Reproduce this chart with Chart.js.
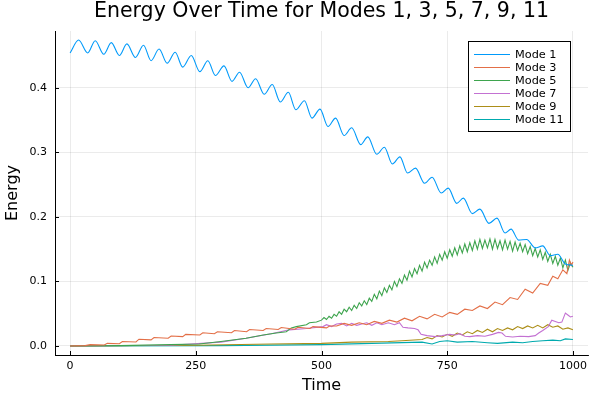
<!DOCTYPE html>
<html>
<head>
<meta charset="utf-8">
<script src="https://cdn.jsdelivr.net/npm/chart.js@4.4.1/dist/chart.umd.min.js"></script>
<style>
    body { margin: 0; background: #fff; }
    #chart { display: block; }
</style>
</head>
<body>
<canvas id="chart" width="600" height="400"></canvas>
<script>
// DATA

const chartTitle = "Energy Over Time for Modes 1, 3, 5, 7, 9, 11";
const xTicks = [0, 250, 500, 750, 1000];
const yTicks = [0.0, 0.1, 0.2, 0.3, 0.4];
const modeNames = ["Mode 1", "Mode 3", "Mode 5", "Mode 7", "Mode 9", "Mode 11"];

// mode 1 is read at its peaks and troughs
const mode1Time = [0, 17, 35, 50, 67, 82, 98, 113, 130, 146, 161, 177, 193, 209, 224, 241, 258, 274, 289, 306,
    322, 337, 354, 369, 386, 402, 418, 434, 449, 466, 481, 497, 513, 528, 545, 560, 578, 592, 610, 625,
    641, 656, 671, 687, 705, 720, 738, 752, 769, 782, 800, 815, 833, 849, 865, 877, 892, 908, 925, 940,
    955, 970, 985, 1000];
const mode1Energy = [0.454, 0.474, 0.454, 0.473, 0.452, 0.470, 0.450, 0.468, 0.447, 0.466, 0.442, 0.460, 0.438, 0.455, 0.432, 0.450, 0.425, 0.442, 0.419, 0.434,
    0.410, 0.424, 0.400, 0.414, 0.390, 0.405, 0.378, 0.393, 0.366, 0.380, 0.353, 0.367, 0.340, 0.353, 0.326, 0.338, 0.312, 0.324, 0.297, 0.308,
    0.282, 0.293, 0.268, 0.2755, 0.252, 0.2615, 0.237, 0.2445, 0.221, 0.229, 0.205, 0.212, 0.190, 0.198, 0.175, 0.181, 0.164, 0.165, 0.152, 0.155,
    0.140, 0.142, 0.127, 0.125];

const mode3Time = [0, 30, 40, 68, 74, 98, 104, 131, 137, 161, 167, 195, 201, 224, 230, 258, 264, 287, 293, 321,
    327, 351, 357, 384, 390, 414, 420, 447, 453, 477, 483, 510, 516, 530, 545, 560, 575, 590, 605, 620,
    635, 650, 665, 680, 695, 710, 725, 740, 755, 770, 785, 800, 815, 830, 845, 860, 875, 890, 905, 920,
    935, 950, 960, 970, 980, 988, 993, 997, 1000];
const mode3Energy = [0, 0.0005, 0.002, 0.0015, 0.004, 0.0035, 0.007, 0.0062, 0.0105, 0.0095, 0.013, 0.012, 0.0155, 0.0145, 0.018, 0.017, 0.0205, 0.019, 0.022, 0.0205,
    0.024, 0.022, 0.0255, 0.024, 0.027, 0.0255, 0.0285, 0.026, 0.029, 0.027, 0.030, 0.028, 0.031, 0.031, 0.035, 0.032, 0.036, 0.033, 0.038, 0.035,
    0.040, 0.037, 0.043, 0.039, 0.046, 0.042, 0.049, 0.045, 0.052, 0.049, 0.057, 0.055, 0.062, 0.058, 0.068, 0.064, 0.075, 0.072, 0.088, 0.082,
    0.097, 0.094, 0.108, 0.104, 0.118, 0.112, 0.133, 0.125, 0.130];

const mode5Time = [0, 100, 200, 257, 300, 350, 384, 410, 430, 440, 450, 470, 476, 490,
    500, 505, 510, 515, 520, 525, 530, 535, 540, 545, 550, 555, 560, 565, 570, 575, 580, 585, 590, 595,
    600, 605, 610, 615, 620, 625, 630, 635, 640, 645, 650, 655, 660, 665, 670, 675, 680, 685, 690, 695,
    700, 705, 710, 715, 720, 725, 730, 735, 740, 745, 750, 755, 760, 765, 770, 775, 780, 785, 790, 795,
    800, 805, 810, 815, 820, 825, 830, 835, 840, 845, 850, 855, 860, 865, 870, 875, 880, 885, 890, 895,
    900, 905, 910, 915, 920, 925, 930, 935, 940, 945, 950, 955, 960, 965, 970, 975, 980, 985, 990, 995, 1000];
const mode5Energy = [0, 0.0005, 0.002, 0.003, 0.007, 0.012, 0.017, 0.020, 0.022, 0.028, 0.030, 0.033, 0.036, 0.037,
    0.040, 0.044, 0.041, 0.046, 0.043, 0.049, 0.046, 0.053, 0.049, 0.057, 0.053, 0.060, 0.055, 0.063, 0.058, 0.067, 0.062, 0.070, 0.064, 0.074,
    0.069, 0.080, 0.073, 0.085, 0.078, 0.090, 0.083, 0.094, 0.087, 0.100, 0.092, 0.104, 0.097, 0.110, 0.102, 0.116, 0.107, 0.120, 0.112, 0.125,
    0.116, 0.130, 0.121, 0.133, 0.125, 0.138, 0.128, 0.142, 0.133, 0.146, 0.136, 0.149, 0.139, 0.152, 0.141, 0.155, 0.144, 0.158, 0.146, 0.160,
    0.148, 0.163, 0.150, 0.165, 0.151, 0.164, 0.152, 0.166, 0.150, 0.165, 0.151, 0.163, 0.149, 0.164, 0.150, 0.162, 0.147, 0.161, 0.148, 0.159,
    0.146, 0.157, 0.143, 0.154, 0.140, 0.151, 0.138, 0.149, 0.134, 0.145, 0.131, 0.142, 0.128, 0.139, 0.125, 0.136, 0.121, 0.133, 0.117, 0.129, 0.122];

const mode7Time = [0, 200, 300, 350, 400, 436, 470, 503, 510, 520, 530, 540, 550, 560, 570, 580, 590, 600, 610, 620,
    633, 645, 655, 662, 672, 685, 692, 698, 710, 726, 740, 755, 766, 775, 785, 795, 810, 825, 840, 852,
    859, 866, 880, 895, 912, 925, 932, 940, 951, 958, 965, 972, 978, 985, 990, 995, 1000];
const mode7Energy = [0, 0.001, 0.006, 0.012, 0.019, 0.025, 0.027, 0.030, 0.033, 0.030, 0.034, 0.035, 0.031, 0.035, 0.032, 0.034, 0.036, 0.032, 0.036, 0.033,
    0.036, 0.033, 0.036, 0.029, 0.028, 0.027, 0.025, 0.018, 0.016, 0.0145, 0.016, 0.018, 0.017, 0.019, 0.015, 0.0145, 0.016, 0.015, 0.018, 0.021,
    0.020, 0.015, 0.014, 0.015, 0.0145, 0.016, 0.020, 0.024, 0.030, 0.040, 0.038, 0.036, 0.037, 0.051, 0.048, 0.045, 0.046];

const mode9Time = [0, 250, 400, 500, 560, 633, 660, 700, 710, 720, 730, 740, 750, 760, 770, 780, 790, 800, 810, 820,
    830, 840, 850, 860, 870, 880, 890, 900, 910, 920, 930, 940, 950, 960, 970, 980, 990, 1000];
const mode9Energy = [0, 0.001, 0.003, 0.004, 0.006, 0.007, 0.008, 0.010, 0.013, 0.011, 0.016, 0.014, 0.018, 0.015, 0.020, 0.017, 0.022, 0.019, 0.024, 0.021,
    0.026, 0.022, 0.027, 0.024, 0.028, 0.025, 0.030, 0.027, 0.031, 0.028, 0.032, 0.028, 0.033, 0.029, 0.031, 0.026, 0.028, 0.025];

const mode11Time = [0, 300, 500, 600, 700, 720, 735, 750, 770, 800, 830, 850, 880, 900, 920, 940, 960, 975, 985, 1000];
const mode11Energy = [0, 0.0005, 0.002, 0.004, 0.006, 0.003, 0.007, 0.008, 0.006, 0.007, 0.005, 0.004, 0.006, 0.005, 0.007, 0.008, 0.009, 0.008, 0.011, 0.010];

const modeColors = ["#009AFA", "#E36F47", "#3EA44E", "#C371D2", "#AC8E18", "#00AAAE"];

// HELPERS

function toPoints(times, values) {
    return times.map((t, i) => ({ x: t, y: values[i] }));
}

const seriesTimes = [mode1Time, mode3Time, mode5Time, mode7Time, mode9Time, mode11Time];
const seriesValues = [mode1Energy, mode3Energy, mode5Energy, mode7Energy, mode9Energy, mode11Energy];

const datasets = modeNames.map((name, i) => ({
    label: name,
    data: toPoints(seriesTimes[i], seriesValues[i]),
    borderColor: modeColors[i],
    borderWidth: 1.1,
    pointRadius: 0,
    fill: false,
    cubicInterpolationMode: i === 0 ? "monotone" : "default", // smooth wiggles for mode 1 only
    tension: 0,
}));

const fontFamily = "'DejaVu Sans', sans-serif";

// draws the title, the inward tick marks and the legend box
const extrasPlugin = {
    id: "extras",
    afterDraw(chart) {
        const ctx = chart.ctx;
        const area = chart.chartArea;
        const xScale = chart.scales.x;
        const yScale = chart.scales.y;

        ctx.save();

        // title
        ctx.fillStyle = "#000";
        ctx.font = "20.5px " + fontFamily;
        ctx.textAlign = "center";
        ctx.textBaseline = "middle";
        ctx.fillText(chartTitle, (area.left + area.right) / 2, 12);

        // inward ticks
        ctx.strokeStyle = "#000";
        ctx.lineWidth = 1;
        ctx.beginPath();
        xTicks.forEach(v => {
            const px = Math.round(xScale.getPixelForValue(v)) + 0.5;
            ctx.moveTo(px, area.bottom);
            ctx.lineTo(px, area.bottom - 4);
        });
        yTicks.forEach(v => {
            const py = Math.round(yScale.getPixelForValue(v)) + 0.5;
            ctx.moveTo(area.left, py);
            ctx.lineTo(area.left + 4, py);
        });
        ctx.stroke();

        // legend
        const boxLeft = 468.5, boxTop = 41.5, boxW = 102, boxH = 90;
        ctx.fillStyle = "#fff";
        ctx.fillRect(boxLeft, boxTop, boxW, boxH);
        ctx.strokeStyle = "#000";
        ctx.lineWidth = 1;
        ctx.strokeRect(boxLeft, boxTop, boxW, boxH);

        ctx.font = "11.3px " + fontFamily;
        ctx.textAlign = "left";
        ctx.textBaseline = "middle";
        modeNames.forEach((name, i) => {
            const y = 54.5 + i * 13;
            ctx.strokeStyle = modeColors[i];
            ctx.lineWidth = 1.1;
            ctx.beginPath();
            ctx.moveTo(474, y);
            ctx.lineTo(510, y);
            ctx.stroke();
            ctx.fillStyle = "#000";
            ctx.fillText(name, 515, y + 0.5);
        });

        ctx.restore();
    }
};

new Chart(document.getElementById("chart"), {
    type: "line",
    data: { datasets: datasets },
    options: {
        responsive: false,
        animation: false,
        devicePixelRatio: 1,
        layout: {
            padding: { top: 31, right: 12, left: 0, bottom: 0 },
        },
        scales: {
            x: {
                type: "linear",
                min: -30,
                max: 1030,
                afterBuildTicks: scale => { scale.ticks = xTicks.map(v => ({ value: v })); },
                afterFit: scale => { scale.height = 45; },
                grid: { color: "rgba(0,0,0,0.1)", lineWidth: 0.8, drawTicks: false },
                border: { color: "#000", width: 1 },
                ticks: {
                    color: "#000",
                    padding: 5,
                    maxRotation: 0,
                    font: { family: fontFamily, size: 11 },
                    callback: value => String(value),
                },
                title: {
                    display: true,
                    text: "Time",
                    color: "#000",
                    font: { family: fontFamily, size: 16 },
                    padding: { top: 0, bottom: 5 },
                },
            },
            y: {
                type: "linear",
                min: -0.014,
                max: 0.488,
                afterBuildTicks: scale => { scale.ticks = yTicks.map(v => ({ value: v })); },
                afterFit: scale => { scale.width = 55; },
                grid: { color: "rgba(0,0,0,0.1)", lineWidth: 0.8, drawTicks: false },
                border: { color: "#000", width: 1 },
                ticks: {
                    color: "#000",
                    padding: 8,
                    font: { family: fontFamily, size: 11 },
                    callback: value => value.toFixed(1),
                },
                title: {
                    display: true,
                    text: "Energy",
                    color: "#000",
                    font: { family: fontFamily, size: 16 },
                    padding: { top: 3, bottom: 0 },
                },
            },
        },
        plugins: {
            legend: { display: false },
            tooltip: { enabled: false },
        },
    },
    plugins: [extrasPlugin],
});
</script>
</body>
</html>
